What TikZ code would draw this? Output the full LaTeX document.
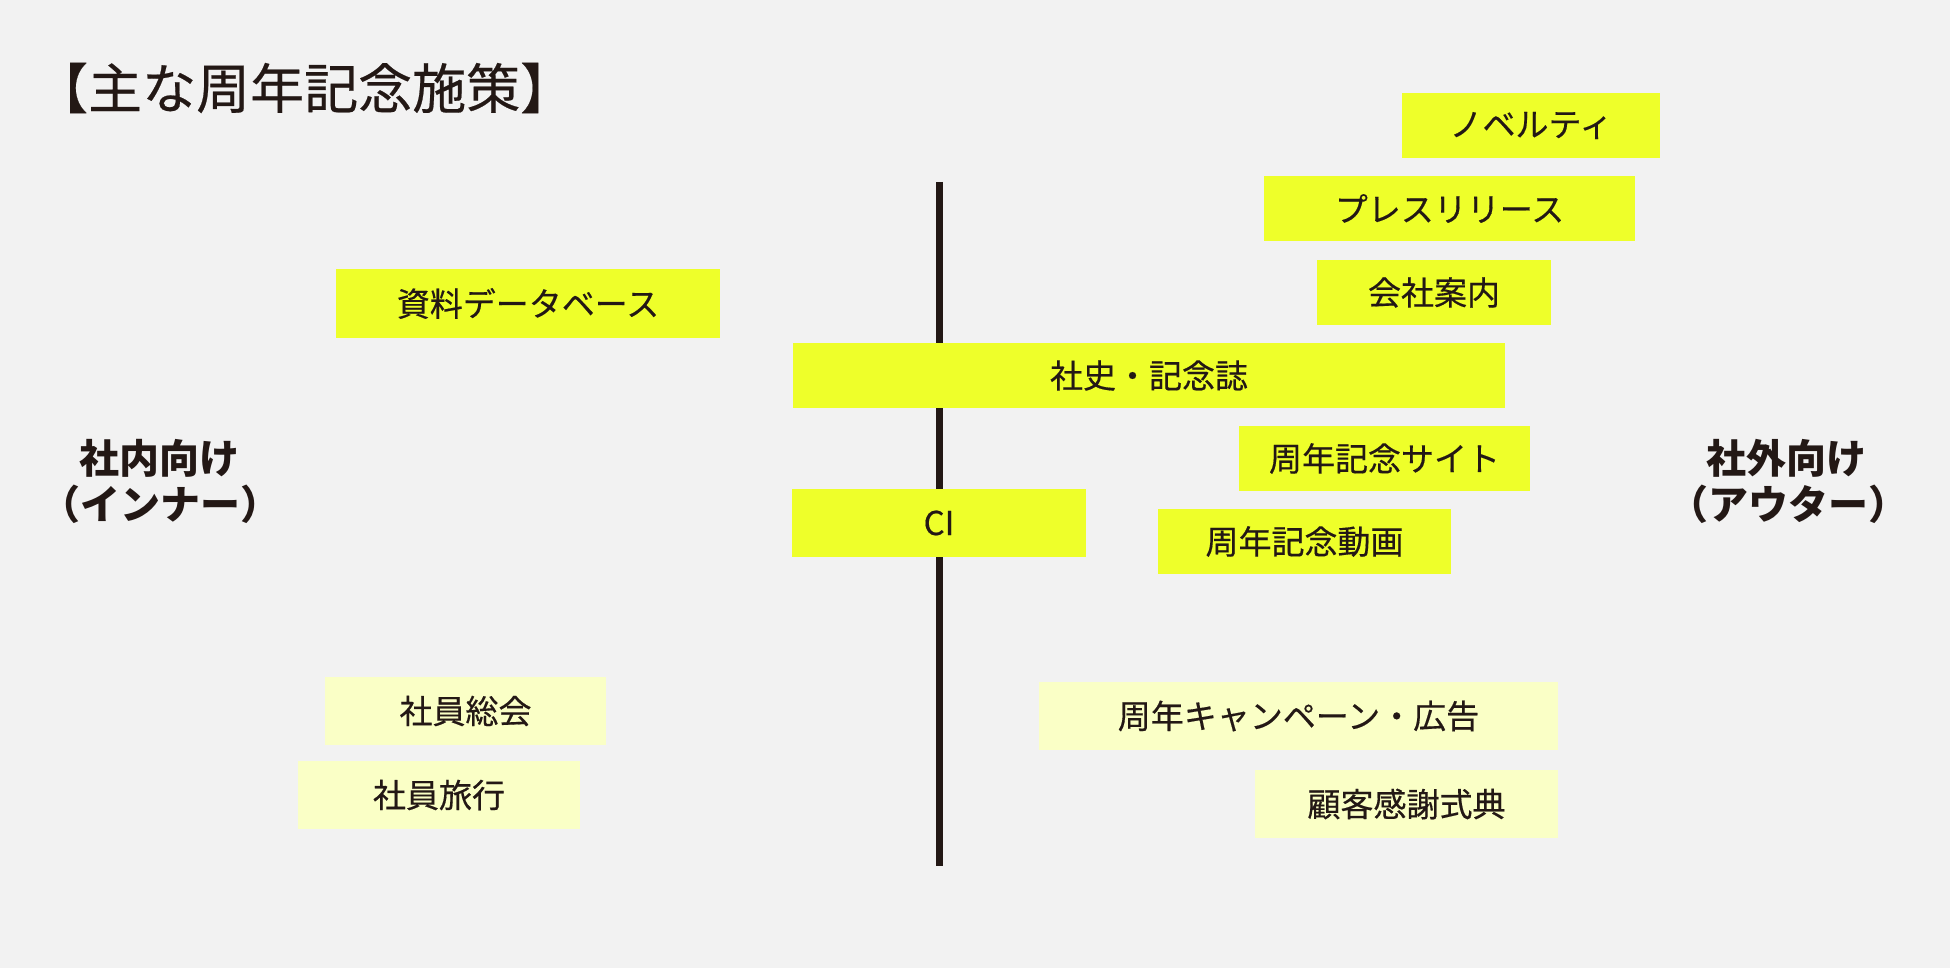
\documentclass[tikz,border=0pt]{standalone}
\usepackage{fontspec}
\setmainfont{Noto Sans CJK JP}
\newfontfamily\medfont{Noto Sans CJK JP}[FakeBold=0.4]
\definecolor{bg}{RGB}{242,242,242}
\definecolor{ylw}{RGB}{238,255,42}
\definecolor{pale}{RGB}{250,255,198}
\definecolor{ink}{RGB}{35,24,21}
\tikzset{
  boxbase/.style={inner sep=0pt, text=ink, font=\medfont\fontsize{33}{40}\selectfont},
  ybox/.style={boxbase, fill=ylw},
  pbox/.style={boxbase, fill=pale},
  sidelabel/.style={text=ink, font=\fontsize{40}{47}\selectfont\bfseries, align=center, inner sep=0pt},
  axisline/.style={draw=ink, line width=7pt}
}
\newcommand{\mybox}[7]{% style, name, x1,y1,x2,y2, text
  \node[#1, minimum width=#5pt-#3pt, minimum height=#6pt-#4pt] (#2) at ({(#3+#5)/2},{(#4+#6)/2}) {#7};}
\begin{document}
\begin{tikzpicture}[x=1pt,y=-1pt]
\useasboundingbox (0,0) rectangle (1950,968);
\fill[bg] (0,0) rectangle (1950,968);
\node[anchor=west, text=ink, font=\medfont\fontsize{54}{62}\selectfont, inner sep=0pt] (title) at (34,88) {【主な周年記念施策】};
\coordinate (axtop) at (939.5,182);
\coordinate (axbot) at (939.5,866);
\draw[axisline] (axtop) -- (axbot);
\mybox{ybox}{nov}{1402}{93}{1660}{158}{ノベルティ}
\mybox{ybox}{press}{1264}{176}{1635}{241}{プレスリリース}
\mybox{ybox}{kaisha}{1317}{260}{1551}{325}{会社案内}
\mybox{ybox}{shiryo}{336}{269}{720}{338}{資料データベース}
\mybox{ybox}{shashi}{793}{343}{1505}{408}{社史・記念誌}
\mybox{ybox}{site}{1239}{426}{1530}{491}{周年記念サイト}
\mybox{ybox}{ci}{792}{489}{1086}{557}{CI}
\mybox{ybox}{douga}{1158}{509}{1451}{574}{周年記念動画}
\mybox{pbox}{soukai}{325}{677}{606}{745}{社員総会}
\mybox{pbox}{ryokou}{298}{761}{580}{829}{社員旅行}
\mybox{pbox}{camp}{1039}{682}{1558}{750}{周年キャンペーン・広告}
\mybox{pbox}{kokyaku}{1255}{770}{1558}{838}{顧客感謝式典}
\node[sidelabel] (inner1) at (159,458) {社内向け};
\node[sidelabel] (inner2) at (160,504) {（インナー）};
\node[sidelabel] (outer1) at (1786,458) {社外向け};
\node[sidelabel] (outer2) at (1788,504) {（アウター）};
\end{tikzpicture}
\end{document}
